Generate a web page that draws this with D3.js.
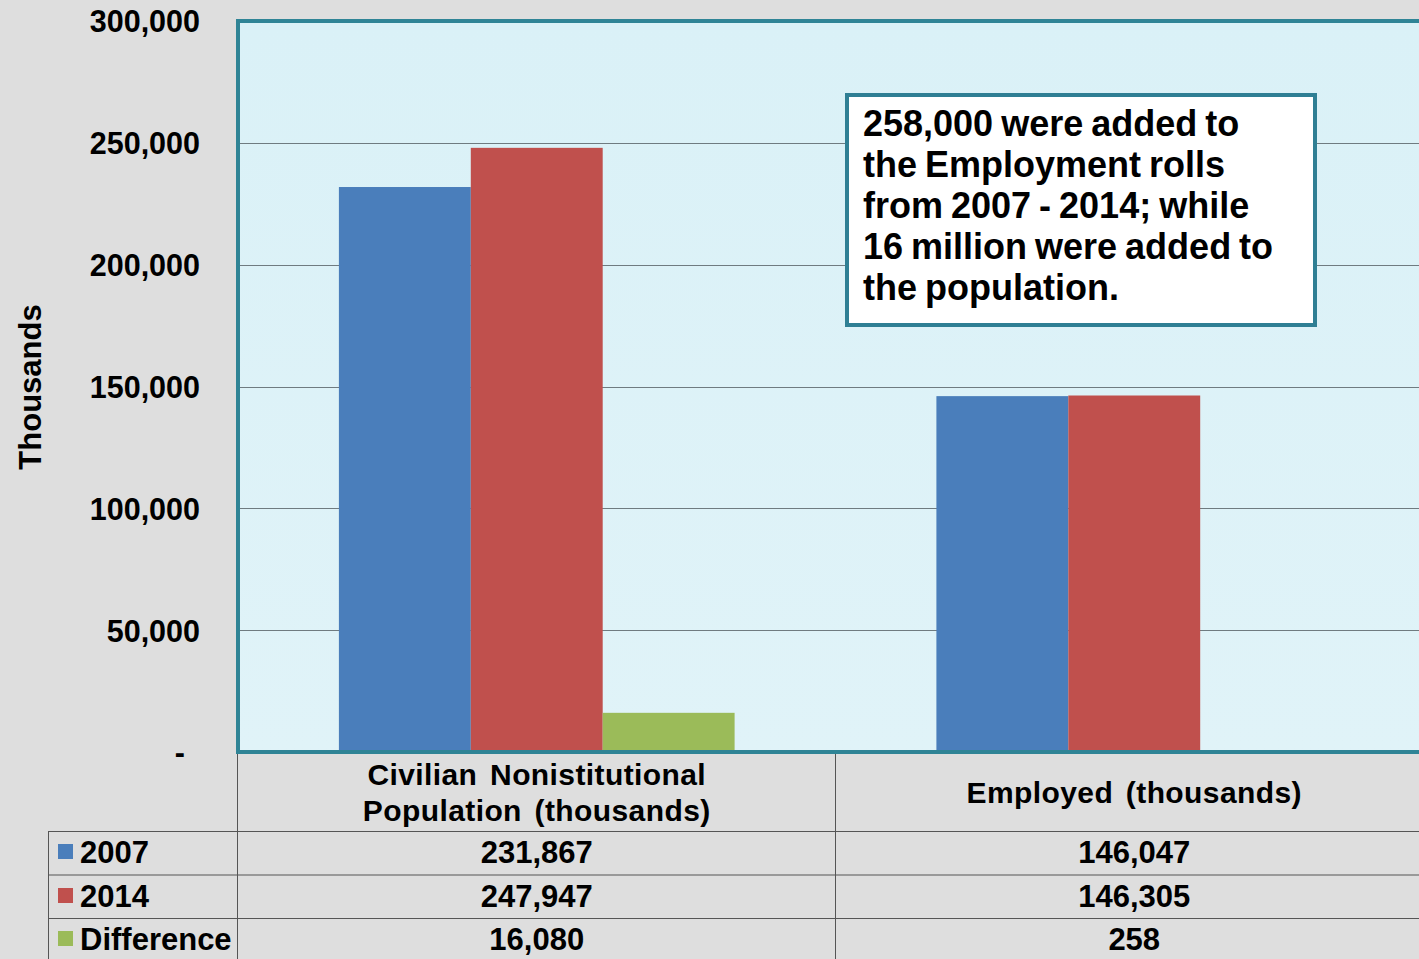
<!DOCTYPE html>
<html><head><meta charset="utf-8">
<script src="https://cdn.jsdelivr.net/npm/d3@7"></script>
<style>
html,body{margin:0;padding:0;background:#dedede;}
svg{display:block;font-family:"Liberation Sans",Arial,sans-serif;}
</style></head>
<body>
<svg id="chart" width="1419" height="959"></svg>
<script>
const categories = ["Civilian Nonistitutional|Population (thousands)", "Employed (thousands)"];
const seriesNames = ["2007", "2014", "Difference"];
const values2007 = [231867, 146047];
const values2014 = [247947, 146305];
const valuesDiff = [16080, 258];
const seriesColors = ["#4a7ebb", "#c0504d", "#9bbb59"];
const yTicks = [0, 50000, 100000, 150000, 200000, 250000, 300000];
const annotationLines = ["258,000 were added to", "the Employment rolls", "from 2007 - 2014; while", "16 million were added to", "the population."];

const seriesValues = [values2007, values2014, valuesDiff];
const svg = d3.select("#chart");
const W = 1419, H = 959;
const plot = {left: 238, top: 21, right: 1433, bottom: 752};

const y = d3.scaleLinear().domain([0, 300000]).range([plot.bottom, plot.top]);
const x0 = d3.scaleBand().domain(categories).range([plot.left, plot.right]).paddingInner(0).paddingOuter(0);
const x1 = d3.scaleBand().domain(seriesNames).range([0, x0.bandwidth()]).paddingInner(0).paddingOuter(0.765);

// background
svg.append("rect").attr("width", W).attr("height", H).attr("fill", "#dedede");

// plot area
const grad = svg.append("defs").append("linearGradient").attr("id", "pbg").attr("x1", 0).attr("y1", 0).attr("x2", 0).attr("y2", 1);
grad.append("stop").attr("offset", "0%").attr("stop-color", "#daf1f7");
grad.append("stop").attr("offset", "100%").attr("stop-color", "#e0f3f8");
svg.append("rect").attr("x", plot.left).attr("y", plot.top).attr("width", plot.right - plot.left).attr("height", plot.bottom - plot.top).attr("fill", "url(#pbg)");

// gridlines
svg.append("g").selectAll("line").data(yTicks.filter(d => d > 0 && d < 300000)).join("line")
  .attr("x1", plot.left).attr("x2", plot.right)
  .attr("y1", d => Math.round(y(d)) + 0.5).attr("y2", d => Math.round(y(d)) + 0.5)
  .attr("stroke", "#6f7b80").attr("stroke-width", 1);

// bars
const gBars = svg.append("g");
categories.forEach((c, ci) => {
  seriesNames.forEach((s, si) => {
    const v = seriesValues[si][ci];
    gBars.append("rect")
      .attr("x", x0(c) + x1(s))
      .attr("y", y(v))
      .attr("width", x1.bandwidth())
      .attr("height", Math.max(0, y(0) - y(v)))
      .attr("fill", seriesColors[si]);
  });
});

// plot border
svg.append("rect").attr("x", plot.left).attr("y", plot.top).attr("width", plot.right - plot.left).attr("height", plot.bottom - plot.top)
  .attr("fill", "none").attr("stroke", "#2f8496").attr("stroke-width", 4);

// y axis
const yAxis = d3.axisLeft(y).tickValues(yTicks).tickSize(0).tickPadding(0)
  .tickFormat(d => d === 0 ? "-" : d3.format(",")(d));
const gy = svg.append("g").attr("transform", "translate(200,0)").call(yAxis);
gy.select(".domain").remove();
gy.selectAll("text").attr("font-size", 30.5).attr("font-weight", "bold").attr("fill", "#000")
  .attr("font-family", "Liberation Sans, Arial, sans-serif")
  .attr("dy", "0.36em")
  .attr("dx", d => d === 0 ? -15 : 0);

// y title
svg.append("text").attr("transform", "translate(41,387) rotate(-90)").attr("text-anchor", "middle")
  .attr("font-size", 31).attr("font-weight", "bold").text("Thousands");

// data table
const rowLines = [831, 874.5, 918];
const tableG = svg.append("g").attr("stroke", "#555").attr("stroke-width", 1);
rowLines.forEach(ry => tableG.append("line").attr("x1", 48).attr("x2", W).attr("y1", ry + 0.5).attr("y2", ry + 0.5));
tableG.append("line").attr("x1", 48.5).attr("x2", 48.5).attr("y1", 831).attr("y2", H);
[plot.left, x0(categories[1])].forEach(vx => tableG.append("line").attr("x1", Math.round(vx) - 0.5).attr("x2", Math.round(vx) - 0.5).attr("y1", plot.bottom + 2).attr("y2", H));

// category labels
categories.forEach(c => {
  const parts = c.split("|");
  const cx = x0(c) + x0.bandwidth() / 2;
  const t = svg.append("text").attr("text-anchor", "middle").attr("font-size", 30).attr("font-weight", "bold").attr("word-spacing", 4).attr("letter-spacing", 0.4);
  const startY = parts.length === 1 ? 803 : 785;
  parts.forEach((p, i) => t.append("tspan").attr("x", cx).attr("y", startY + i * 36).text(p));
});

// legend rows + values
const rowCenters = [852, 896, 939];
seriesNames.forEach((s, si) => {
  const cy = rowCenters[si];
  svg.append("rect").attr("x", 58).attr("y", cy - 8).attr("width", 15).attr("height", 15).attr("fill", seriesColors[si]);
  svg.append("text").attr("x", 80).attr("y", cy).attr("dy", "0.36em").attr("font-size", 31).attr("font-weight", "bold").text(s);
  categories.forEach((c, ci) => {
    svg.append("text").attr("x", x0(c) + x0.bandwidth() / 2).attr("y", cy).attr("dy", "0.36em")
      .attr("text-anchor", "middle").attr("font-size", 31).attr("font-weight", "bold")
      .text(d3.format(",")(seriesValues[si][ci]));
  });
});

// annotation box
svg.append("rect").attr("x", 847).attr("y", 95).attr("width", 468).attr("height", 230)
  .attr("fill", "#ffffff").attr("stroke", "#2f7f94").attr("stroke-width", 4);
const at = svg.append("text").attr("font-size", 36).attr("font-weight", "bold").attr("word-spacing", -2);
annotationLines.forEach((l, i) => at.append("tspan").attr("x", 863).attr("y", 136 + i * 41).text(l));
</script>
</body></html>
